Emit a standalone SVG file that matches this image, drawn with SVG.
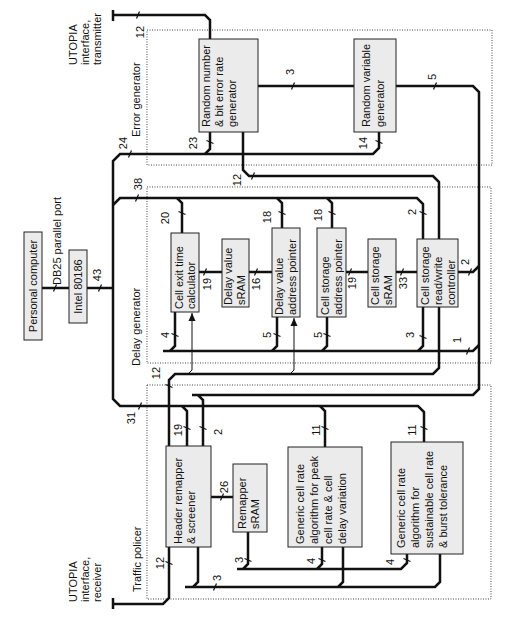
<svg xmlns="http://www.w3.org/2000/svg" width="512" height="620" viewBox="0 0 512 620">
<defs>
<style>
text{font-family:"Liberation Sans",Arial,sans-serif;font-size:11px;fill:#111}
.n{text-anchor:middle}
.c{text-anchor:middle}
.w{fill:none;stroke:#111;stroke-width:2.5;stroke-linejoin:miter}
.thin{fill:none;stroke:#111;stroke-width:1}
.tk{fill:none;stroke:#111;stroke-width:1.2}
.box{fill:#ebebeb;stroke:#222;stroke-width:1}
.grp{fill:none;stroke:#444;stroke-width:1;stroke-dasharray:1 1.5}
</style>
<marker id="ah" viewBox="0 0 8 8" refX="8" refY="4" markerWidth="8" markerHeight="8" markerUnits="userSpaceOnUse" orient="auto">
<path d="M0,0.5 L8,4 L0,7.5 Z" fill="#111"/>
</marker>
</defs>
<rect width="512" height="620" fill="#fff"/>

<g id="error-generator">
<rect class="grp" x="147" y="30" width="345" height="135"/>
<text transform="translate(140,137) rotate(-90)">Error generator</text>
</g>
<g id="delay-generator">
<rect class="grp" x="147" y="187" width="344" height="176"/>
<text transform="translate(140,366) rotate(-90)">Delay generator</text>
</g>
<g id="traffic-policer">
<rect class="grp" x="147" y="385" width="344" height="214"/>
<text transform="translate(141,592) rotate(-90)">Traffic policer</text>
</g>

<g id="connectors">
<path class="w" d="M113,15 H205 L210,20 V39 M113,10 V21"/>
<path class="w" d="M379,132 V148 L373,154 H120 L113,161 V399 L120,406 H418 L424,412 V442"/>
<path class="w" d="M205,154 L210,149 V132"/>
<path class="w" d="M113,205 L120,198 H417 L423,204 V239"/>
<path class="w" d="M177,198 L182,203 V233 M277,198 L282,203 V228 M327,198 L332,203 V228"/>
<path class="w" d="M42,288 H69 M87,288 H113"/>
<path class="w" d="M258,86 H354"/>
<path class="w" d="M396,86 H473 L479,92 V389 L473,395 H192"/>
<path class="w" d="M198,395 L203,400 V446"/>
<path class="w" d="M479,345 L473,351 H163"/>
<path class="w" d="M170,351 L175,346 V312 M272,351 L277,346 V317 M322,351 L327,346 V317 M418,351 L423,346 V307"/>
<path class="w" d="M458,272 H473 L479,266"/>
<path class="w" d="M199,272 H222 M249,272 H272 M346,272 H368 M396,272 H417"/>
<path class="w" d="M243,132 V170 L249,176 H433 L439,182 V368 L433,374 H175 L169,380 V598 L163,604 H113 M113,598 V609"/>
<path class="w" d="M182,406 L187,411 V446 M320,406 L325,411 V447"/>
<path class="w" d="M211,497 H233"/>
<path class="w" d="M237,569 H401 L407,563 V554 M243,569 L248,564 V532 M317,569 L322,564 V547"/>
<path class="w" d="M185,587 H435 L440,582 V554 M193,587 L198,582 V547 M338,587 L343,582 V547"/>
<path class="thin" marker-end="url(#ah)" d="M188,374 L192,370 V313"/>
<path class="thin" marker-end="url(#ah)" d="M290,374 L294,370 V318"/>
<path class="tk" d="M136.5,18.5 L139.5,11.5 M128.5,157.5 L131.5,150.5 M135.5,201.5 L138.5,194.5 M138.5,409.5 L141.5,402.5 M98.5,291.5 L101.5,284.5 M53.5,291.5 L56.5,284.5 M291.5,89.5 L294.5,82.5 M433.5,89.5 L436.5,82.5 M203.5,275.5 L206.5,268.5 M254.5,275.5 L257.5,268.5 M348.5,275.5 L351.5,268.5 M400.5,275.5 L403.5,268.5 M468.5,275.5 L471.5,268.5 M220.5,500.5 L223.5,493.5 M251.5,179.5 L254.5,172.5 M213.5,590.5 L216.5,583.5 M466.5,354.5 L469.5,347.5"/>
<path class="tk" d="M178.5,211.5 L185.5,214.5 M278.5,211.5 L285.5,214.5 M328.5,211.5 L335.5,214.5 M419.5,211.5 L426.5,214.5 M171.5,333.5 L178.5,336.5 M273.5,333.5 L280.5,336.5 M323.5,333.5 L330.5,336.5 M419.5,335.5 L426.5,338.5 M206.5,140.5 L213.5,143.5 M375.5,140.5 L382.5,143.5 M183.5,426.5 L190.5,429.5 M199.5,426.5 L206.5,429.5 M321.5,426.5 L328.5,429.5 M420.5,426.5 L427.5,429.5 M244.5,558.5 L251.5,561.5 M318.5,558.5 L325.5,561.5 M403.5,558.5 L410.5,561.5 M165.5,561.5 L172.5,564.5 M165.5,384.5 L172.5,387.5"/>
</g>

<g id="bus-labels">
<text class="n" transform="translate(140,32) rotate(-90)" y="4">12</text>
<text class="n" transform="translate(123,143) rotate(-90)" y="4">24</text>
<text class="n" transform="translate(138,184) rotate(-90)" y="4">38</text>
<text class="n" transform="translate(131,418) rotate(-90)" y="4">31</text>
<text class="n" transform="translate(97,275) rotate(-90)" y="4">43</text>
<text class="n" transform="translate(193,143) rotate(-90)" y="4">23</text>
<text class="n" transform="translate(363,143) rotate(-90)" y="4">14</text>
<text class="n" transform="translate(290,72) rotate(-90)" y="4">3</text>
<text class="n" transform="translate(432,77) rotate(-90)" y="4">5</text>
<text class="n" transform="translate(237,180) rotate(-90)" y="4">12</text>
<text class="n" transform="translate(165,218) rotate(-90)" y="4">20</text>
<text class="n" transform="translate(267,217) rotate(-90)" y="4">18</text>
<text class="n" transform="translate(318,215) rotate(-90)" y="4">18</text>
<text class="n" transform="translate(412,212) rotate(-90)" y="4">2</text>
<text class="n" transform="translate(207,284) rotate(-90)" y="4">19</text>
<text class="n" transform="translate(256,284) rotate(-90)" y="4">16</text>
<text class="n" transform="translate(352,283) rotate(-90)" y="4">19</text>
<text class="n" transform="translate(403,283) rotate(-90)" y="4">33</text>
<text class="n" transform="translate(465,262) rotate(-90)" y="4">2</text>
<text class="n" transform="translate(165,335) rotate(-90)" y="4">4</text>
<text class="n" transform="translate(267,335) rotate(-90)" y="4">5</text>
<text class="n" transform="translate(318,335) rotate(-90)" y="4">5</text>
<text class="n" transform="translate(410,335) rotate(-90)" y="4">3</text>
<text class="n" transform="translate(457,340) rotate(-90)" y="4">1</text>
<text class="n" transform="translate(156,373) rotate(-90)" y="4">12</text>
<text class="n" transform="translate(178,430) rotate(-90)" y="4">19</text>
<text class="n" transform="translate(218,432) rotate(-90)" y="4">2</text>
<text class="n" transform="translate(316,430) rotate(-90)" y="4">11</text>
<text class="n" transform="translate(412,430) rotate(-90)" y="4">11</text>
<text class="n" transform="translate(224,487) rotate(-90)" y="4">26</text>
<text class="n" transform="translate(239,560) rotate(-90)" y="4">3</text>
<text class="n" transform="translate(311,561) rotate(-90)" y="4">4</text>
<text class="n" transform="translate(390,562) rotate(-90)" y="4">4</text>
<text class="n" transform="translate(217,578) rotate(-90)" y="4">3</text>
<text class="n" transform="translate(160,563) rotate(-90)" y="4">12</text>
</g>

<g id="utopia-transmitter">
<text transform="translate(77,65) rotate(-90)"><tspan x="0">UTOPIA</tspan><tspan x="0" dy="12">interface,</tspan><tspan x="0" dy="12">transmitter</tspan></text>
</g>
<g id="utopia-receiver">
<text transform="translate(77,602) rotate(-90)"><tspan x="0">UTOPIA</tspan><tspan x="0" dy="12">interface,</tspan><tspan x="0" dy="12">receiver</tspan></text>
</g>
<g id="db25">
<text transform="translate(61,285) rotate(-90)">DB25 parallel port</text>
</g>

<g id="pc">
<rect class="box" x="24" y="232" width="18" height="108"/>
<text class="c" transform="translate(37,286) rotate(-90)">Personal computer</text>
</g>
<g id="intel">
<rect class="box" x="69" y="250" width="18" height="73"/>
<text class="c" transform="translate(82,286.5) rotate(-90)">Intel 80186</text>
</g>
<g id="rng">
<rect class="box" x="199" y="39" width="59" height="93"/>
<text transform="translate(210,127) rotate(-90)"><tspan x="0">Random number</tspan><tspan x="0" dy="13">&amp; bit error rate</tspan><tspan x="0" dy="13">generator</tspan></text>
</g>
<g id="rvg">
<rect class="box" x="354" y="39" width="42" height="93"/>
<text transform="translate(370,127) rotate(-90)"><tspan x="0">Random variable</tspan><tspan x="0" dy="14">generator</tspan></text>
</g>
<g id="calc">
<rect class="box" x="171" y="233" width="28" height="79"/>
<text transform="translate(183,309) rotate(-90)"><tspan x="0">Cell exit time</tspan><tspan x="0" dy="12">calculator</tspan></text>
</g>
<g id="dv-sram">
<rect class="box" x="222" y="239" width="27" height="68"/>
<text transform="translate(232,305) rotate(-90)"><tspan x="0">Delay value</tspan><tspan x="0" dy="13">sRAM</tspan></text>
</g>
<g id="dvap">
<rect class="box" x="272" y="228" width="28" height="89"/>
<text transform="translate(283,315) rotate(-90)"><tspan x="0">Delay value</tspan><tspan x="0" dy="12.5">address pointer</tspan></text>
</g>
<g id="csap">
<rect class="box" x="317" y="228" width="29" height="89"/>
<text transform="translate(329,315) rotate(-90)"><tspan x="0">Cell storage</tspan><tspan x="0" dy="12.5">address pointer</tspan></text>
</g>
<g id="cs-sram">
<rect class="box" x="368" y="239" width="28" height="68"/>
<text transform="translate(379,305) rotate(-90)"><tspan x="0">Cell storage</tspan><tspan x="0" dy="13">sRAM</tspan></text>
</g>
<g id="ctrl">
<rect class="box" x="417" y="239" width="41" height="68"/>
<text transform="translate(429,305) rotate(-90)"><tspan x="0">Cell storage</tspan><tspan x="0" dy="13">read/write</tspan><tspan x="0" dy="13">controller</tspan></text>
</g>
<g id="header">
<rect class="box" x="166" y="446" width="45" height="101"/>
<text transform="translate(182,544) rotate(-90)"><tspan x="0">Header remapper</tspan><tspan x="0" dy="13">&amp; screener</tspan></text>
</g>
<g id="remapper-sram">
<rect class="box" x="233" y="464" width="34" height="68"/>
<text transform="translate(246,529) rotate(-90)"><tspan x="0">Remapper</tspan><tspan x="0" dy="13">sRAM</tspan></text>
</g>
<g id="gcra-peak">
<rect class="box" x="288" y="447" width="74" height="100"/>
<text transform="translate(304,544) rotate(-90)"><tspan x="0">Generic cell rate</tspan><tspan x="0" dy="14">algorithm for peak</tspan><tspan x="0" dy="14">cell rate &amp; cell</tspan><tspan x="0" dy="14">delay variation</tspan></text>
</g>
<g id="gcra-sust">
<rect class="box" x="391" y="442" width="72" height="112"/>
<text transform="translate(405,548) rotate(-90)"><tspan x="0">Generic cell rate</tspan><tspan x="0" dy="14">algorithm for</tspan><tspan x="0" dy="14">sustainable cell rate</tspan><tspan x="0" dy="14">&amp; burst tolerance</tspan></text>
</g>
</svg>
